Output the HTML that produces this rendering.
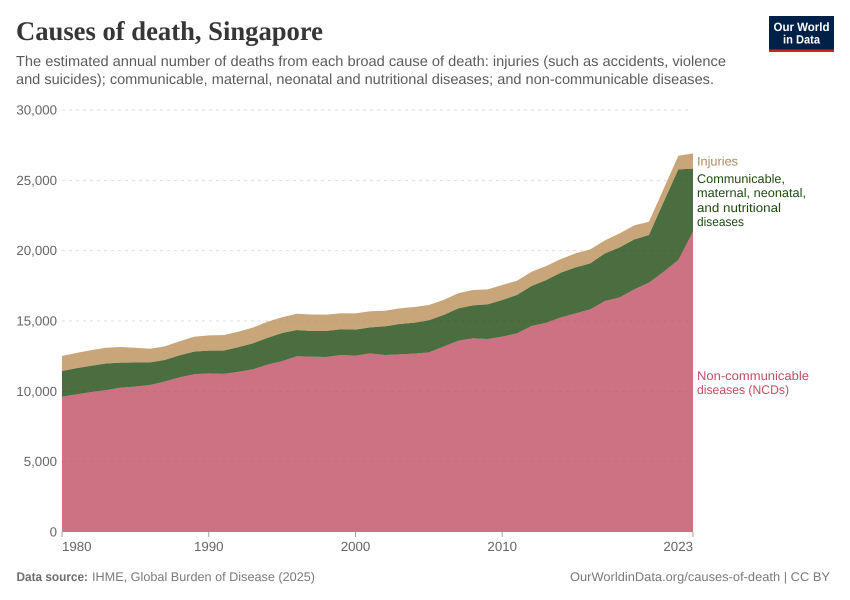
<!DOCTYPE html>
<html lang="en">
<head>
<meta charset="utf-8">
<title>Causes of death, Singapore</title>
<style>
html,body{margin:0;padding:0;background:#fff;}
svg{display:block;font-family:"Liberation Sans",sans-serif;text-rendering:geometricPrecision;}
</style>
</head>
<body>
<svg id="chart" width="850" height="600" viewBox="0 0 850 600" xmlns="http://www.w3.org/2000/svg">
  <text x="16" y="40" font-family="'Liberation Serif',serif" font-weight="700" font-size="27" fill="#363636" textLength="307" lengthAdjust="spacingAndGlyphs">Causes of death, Singapore</text>
  <text x="16" y="66" font-size="14.5" fill="#5b5b5b" textLength="710" lengthAdjust="spacingAndGlyphs">The estimated annual number of deaths from each broad cause of death: injuries (such as accidents, violence</text>
  <text x="16" y="84" font-size="14.5" fill="#5b5b5b" textLength="698" lengthAdjust="spacingAndGlyphs">and suicides); communicable, maternal, neonatal and nutritional diseases; and non-communicable diseases.</text>

  <g>
    <rect x="769" y="16" width="65" height="36" fill="#002147"/>
    <rect x="769" y="49.5" width="65" height="2.5" fill="#ce261e"/>
    <text x="801.5" y="31" text-anchor="middle" font-size="12" font-weight="700" fill="#fff" textLength="56" lengthAdjust="spacingAndGlyphs">Our World</text>
    <text x="801.5" y="43.5" text-anchor="middle" font-size="12" font-weight="700" fill="#fff" textLength="37" lengthAdjust="spacingAndGlyphs">in Data</text>
  </g>

  <g id="grid"></g>
  <g id="yLabels"></g>
  <g id="areas"></g>
  <g id="xAxis"></g>

  <text x="697" y="165.5" font-size="12.5" fill="#b08a5e" textLength="41" lengthAdjust="spacingAndGlyphs">Injuries</text>
  <g font-size="12.5" fill="#1d4a10">
    <text x="697" y="183" textLength="88" lengthAdjust="spacingAndGlyphs">Communicable,</text>
    <text x="697" y="197" textLength="109" lengthAdjust="spacingAndGlyphs">maternal, neonatal,</text>
    <text x="697" y="212" textLength="84" lengthAdjust="spacingAndGlyphs">and nutritional</text>
    <text x="697" y="226" textLength="47" lengthAdjust="spacingAndGlyphs">diseases</text>
  </g>
  <g font-size="12.5" fill="#bf4f64">
    <text x="697" y="380" textLength="112" lengthAdjust="spacingAndGlyphs">Non-communicable</text>
    <text x="697" y="394" textLength="92" lengthAdjust="spacingAndGlyphs">diseases (NCDs)</text>
  </g>

  <text x="16.5" y="581" font-size="12.5" font-weight="700" fill="#6e6e6e" textLength="71.5" lengthAdjust="spacingAndGlyphs">Data source:</text>
  <text x="92" y="581" font-size="12.5" fill="#7a7a7a" textLength="223" lengthAdjust="spacingAndGlyphs">IHME, Global Burden of Disease (2025)</text>
  <text x="570" y="581" font-size="12.5" fill="#7a7a7a" textLength="260" lengthAdjust="spacingAndGlyphs">OurWorldinData.org/causes-of-death | CC BY</text>
</svg>
<script>
const years = [1980,1981,1982,1983,1984,1985,1986,1987,1988,1989,1990,1991,1992,1993,1994,1995,1996,1997,1998,1999,2000,2001,2002,2003,2004,2005,2006,2007,2008,2009,2010,2011,2012,2013,2014,2015,2016,2017,2018,2019,2020,2021,2022,2023];
const ncds = [9620,9780,9950,10090,10260,10340,10450,10700,10990,11210,11280,11240,11380,11560,11900,12150,12490,12470,12440,12580,12535,12700,12580,12630,12680,12770,13175,13600,13770,13720,13885,14120,14645,14880,15260,15545,15830,16420,16680,17250,17725,18505,19335,21350];
const communicable = [1825,1870,1870,1890,1780,1710,1610,1530,1570,1610,1610,1650,1750,1850,1900,2000,1870,1820,1850,1830,1855,1850,2040,2157,2200,2280,2252,2300,2345,2465,2605,2730,2845,3035,3175,3270,3270,3390,3556,3550,3385,4965,6445,4480];
const injuries = [1065,1080,1110,1120,1110,1050,970,970,990,1060,1090,1110,1110,1120,1150,1120,1160,1170,1160,1140,1155,1140,1110,1113,1115,1087,1063,1070,1085,1065,1070,1015,1015,995,972,995,995,920,994,1000,950,930,970,1090];
const yTicks = [0,5000,10000,15000,20000,25000,30000];
const xTicks = [1980,1990,2000,2010,2023];

const NS = 'http://www.w3.org/2000/svg';
const xScale = function (year) { return 62 + (year - 1980) * (693 - 62) / (2023 - 1980); };
const yScale = function (value) { return 532 - value * (532 - 110) / 30000; };

const gridGroup = document.getElementById('grid');
const labelGroup = document.getElementById('yLabels');
yTicks.forEach(function (tick) {
  if (tick > 0) {
    const line = document.createElementNS(NS, 'line');
    
    
    line.setAttribute('x1', 62);
    line.setAttribute('x2', 691);
    line.setAttribute('y1', yScale(tick));
    line.setAttribute('y2', yScale(tick));
    line.setAttribute('stroke', '#dddddd');
    line.setAttribute('stroke-dasharray', '3,4');
    gridGroup.appendChild(line);
  }
  const label = document.createElementNS(NS, 'text');
  
  
  label.setAttribute('x', 57);
  label.setAttribute('y', yScale(tick) + 4.5);
  label.setAttribute('text-anchor', 'end');
  label.setAttribute('font-size', '13.3');
  label.setAttribute('fill', '#666666');
  label.textContent = tick.toLocaleString('en-US');
  labelGroup.appendChild(label);
});

const layers = [
  { values: ncds, color: '#bf4f64', name: 'area-ncds' },
  { values: communicable, color: '#1d4a10', name: 'area-communicable' },
  { values: injuries, color: '#bb8e59', name: 'area-injuries' }
];
const areaGroup = document.getElementById('areas');
let baseline = years.map(function () { return 0; });
layers.forEach(function (layer) {
  const tops = baseline.map(function (b, i) { return b + layer.values[i]; });
  const upper = years.map(function (year, i) { return xScale(year).toFixed(2) + ',' + yScale(tops[i]).toFixed(2); });
  const lower = years.map(function (year, i) { return xScale(year).toFixed(2) + ',' + yScale(baseline[i]).toFixed(2); }).reverse();
  const path = document.createElementNS(NS, 'path');
  
  
  path.setAttribute('d', 'M' + upper.join('L') + 'L' + lower.join('L') + 'Z');
  path.setAttribute('fill', layer.color);
  path.setAttribute('fill-opacity', '0.8');
  areaGroup.appendChild(path);
  baseline = tops;
});

const xGroup = document.getElementById('xAxis');
xTicks.forEach(function (year, i) {
  const tick = document.createElementNS(NS, 'line');
  
  
  tick.setAttribute('x1', xScale(year));
  tick.setAttribute('x2', xScale(year));
  tick.setAttribute('y1', 532);
  tick.setAttribute('y2', 537);
  tick.setAttribute('stroke', '#a1a1a1');
  xGroup.appendChild(tick);
  const label = document.createElementNS(NS, 'text');
  
  
  label.setAttribute('x', xScale(year));
  label.setAttribute('y', 551);
  label.setAttribute('text-anchor', i === 0 ? 'start' : (i === xTicks.length - 1 ? 'end' : 'middle'));
  label.setAttribute('font-size', '13.3');
  label.setAttribute('fill', '#666666');
  label.textContent = String(year);
  xGroup.appendChild(label);
});
</script>
</body>
</html>
